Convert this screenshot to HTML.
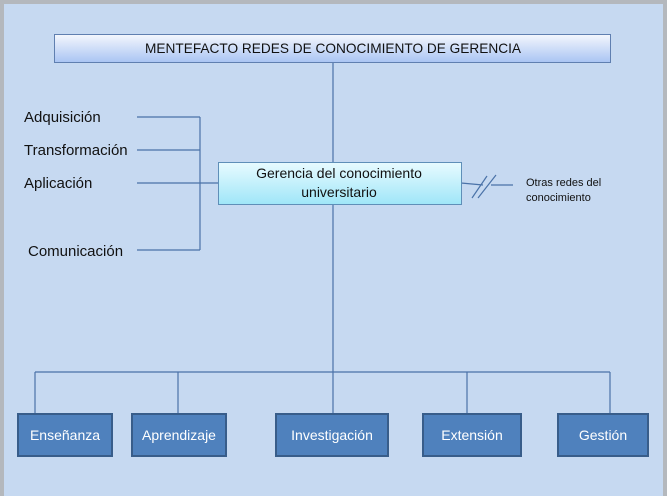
<!DOCTYPE html>
<html><head><meta charset="utf-8"><style>
html,body{margin:0;padding:0;width:667px;height:496px;overflow:hidden;background:#c6d9f1}
svg{display:block}
text{font-family:"Liberation Sans",sans-serif}
</style></head><body>
<svg width="667" height="496" viewBox="0 0 667 496" xmlns="http://www.w3.org/2000/svg">
<defs>
<linearGradient id="tg" x1="0" y1="0" x2="0" y2="1"><stop offset="0" stop-color="#f4f7fd"/><stop offset="1" stop-color="#a9c4f3"/></linearGradient>
<linearGradient id="cg" x1="0" y1="0" x2="0" y2="1"><stop offset="0" stop-color="#e8fbff"/><stop offset="1" stop-color="#9fe6f8"/></linearGradient>
</defs>
<rect x="0" y="0" width="667" height="496" fill="#c6d9f1"/>
<rect x="0" y="0" width="667" height="4" fill="#b4b8bd"/>
<rect x="0" y="0" width="4" height="496" fill="#b4b8bd"/>
<rect x="663" y="0" width="4" height="496" fill="#b4b8bd"/>
<g stroke="#4a72a8" stroke-width="1.2" fill="none">
<line x1="333" y1="62" x2="333" y2="413"/>
<line x1="35" y1="372" x2="610" y2="372"/>
<line x1="35" y1="372" x2="35" y2="413"/>
<line x1="178" y1="372" x2="178" y2="413"/>
<line x1="467" y1="372" x2="467" y2="413"/>
<line x1="610" y1="372" x2="610" y2="413"/>
<line x1="137" y1="117" x2="200" y2="117"/>
<line x1="137" y1="150" x2="200" y2="150"/>
<line x1="137" y1="183" x2="218" y2="183"/>
<line x1="137" y1="250" x2="200" y2="250"/>
<line x1="200" y1="117" x2="200" y2="250"/>
<polyline points="461,183 483,185"/>
<line x1="491" y1="185" x2="513" y2="185"/>
<line x1="472" y1="198" x2="487" y2="176"/>
<line x1="478" y1="198" x2="496" y2="175"/>
</g>
<rect x="54.5" y="34.5" width="556" height="28" fill="url(#tg)" stroke="#5f7fb0" stroke-width="1"/>
<text x="333" y="53" font-size="14" text-anchor="middle" fill="#111" textLength="376" lengthAdjust="spacingAndGlyphs">MENTEFACTO  REDES DE CONOCIMIENTO DE GERENCIA</text>
<rect x="218.5" y="162.5" width="243" height="42" fill="url(#cg)" stroke="#5f8fb8" stroke-width="1"/>
<text x="339" y="178" font-size="14" text-anchor="middle" fill="#111">Gerencia del conocimiento</text>
<text x="339" y="197" font-size="14" text-anchor="middle" fill="#111">universitario</text>
<g font-size="15" fill="#111">
<text x="24" y="122">Adquisición</text>
<text x="24" y="155">Transformación</text>
<text x="24" y="188">Aplicación</text>
<text x="28" y="256">Comunicación</text>
</g>
<text x="526" y="186" font-size="11" fill="#111">Otras redes del</text>
<text x="526" y="201" font-size="11" fill="#111">conocimiento</text>
<g fill="#4f81bd" stroke="#385d8a" stroke-width="2">
<rect x="18" y="414" width="94" height="42"/>
<rect x="132" y="414" width="94" height="42"/>
<rect x="276" y="414" width="112" height="42"/>
<rect x="423" y="414" width="98" height="42"/>
<rect x="558" y="414" width="90" height="42"/>
</g>
<g font-size="14" fill="#fff" text-anchor="middle">
<text x="65" y="440">Enseñanza</text>
<text x="179" y="440">Aprendizaje</text>
<text x="332" y="440">Investigación</text>
<text x="472" y="440">Extensión</text>
<text x="603" y="440">Gestión</text>
</g>
</svg>
</body></html>
